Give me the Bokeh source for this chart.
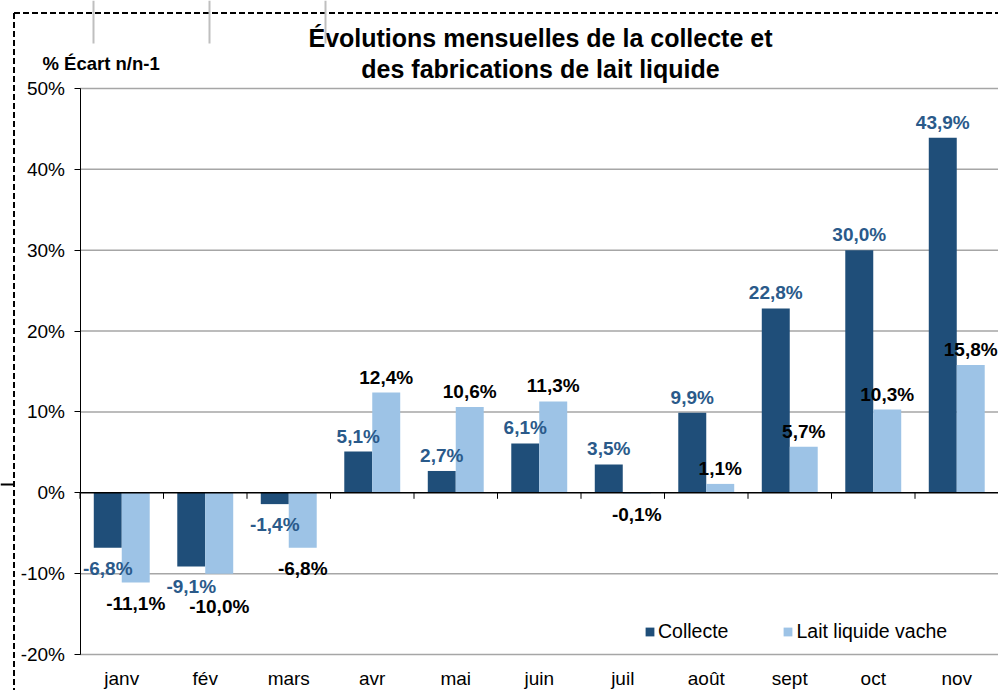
from bokeh.plotting import figure
from bokeh.models import (Range1d, FixedTicker, LinearAxis, Legend, LegendItem,
                          ColumnDataSource)
from bokeh.core.properties import value
from bokeh.embed import file_html
from bokeh.resources import INLINE

# ---- data ----
months = ["janv", "fév", "mars", "avr", "mai", "juin", "juil", "août", "sept", "oct", "nov"]
collecte = [-6.8, -9.1, -1.4, 5.1, 2.7, 6.1, 3.5, 9.9, 22.8, 30.0, 43.9]
lait = [-11.1, -10.0, -6.8, 12.4, 10.6, 11.3, -0.1, 1.1, 5.7, 10.3, 15.8]
y_ticks = [-20, -10, 0, 10, 20, 30, 40, 50]
title_lines = ["Évolutions mensuelles de la collecte et", "des fabrications de lait liquide"]
y_title = "% Écart n/n-1"
series_names = ["Collecte", "Lait liquide vache"]

DARK = "#1F4E79"
LIGHT = "#9DC3E6"
LBL_BLUE = "#2A5A8A"
GRID = "#A6A6A6"
FONT = "Liberation Sans"

# ---- picture geometry (pixels) -> data scale ----
W, H = 998, 690
PX0 = 0
AXIS_X = 79.5             # picture x of the y axis (category boundary 0)
CAT_PX = 83.5             # px per category
Y50, Y0 = 88.0, 492.3     # picture y of 50% and 0%
PPU = (Y0 - Y50) / 50.0   # px per percent

def dx(px):
    return (px - AXIS_X) / CAT_PX

def dy(py):
    return (Y0 - py) / PPU

n = len(months)
x_range = Range1d(dx(PX0), dx(PX0 + W))
y_range = Range1d(dy(PX0 + H), dy(PX0))

centers = [i + 0.5 for i in range(n)]
bw = 0.335
x_c = [c - bw / 2 for c in centers]
x_l = [c + bw / 2 for c in centers]

def fmt(v):
    return f"{v:.1f}".replace(".", ",") + "%"

POS_OFF = 15.5 / PPU
NEG_OFF = 20.5 / PPU
MIN_SEP = 20.0 / PPU

def lab_y(v):
    return v + POS_OFF if v >= 0 else v - NEG_OFF

ly_c = [lab_y(v) for v in collecte]
ly_l = []
for a, b in zip(ly_c, lait):
    y = lab_y(b)
    # avoid overlapping the neighbouring label of the same month (negative side)
    if b < 0 and abs(y - a) < MIN_SEP:
        y = min(y, a - MIN_SEP)
    ly_l.append(y)

src_c = ColumnDataSource(dict(x=x_c, top=collecte, ly=ly_c, txt=[fmt(v) for v in collecte]))
src_l = ColumnDataSource(dict(x=x_l, top=lait, ly=ly_l, txt=[fmt(v) for v in lait]))

p = figure(width=W, height=H, output_backend="svg", toolbar_location=None,
           x_range=x_range, y_range=y_range, x_axis_location=None, y_axis_location=None,
           min_border=0, min_border_left=0, min_border_right=0,
           min_border_top=0, min_border_bottom=0)
p.outline_line_color = None
p.background_fill_color = "white"
p.border_fill_color = "white"
p.xgrid.visible = False
p.ygrid.visible = False

# gridlines (from the axis to the right edge)
gy = [t for t in y_ticks if t != 0]
p.segment(x0=[0] * len(gy), x1=[n] * len(gy), y0=gy, y1=gy, line_color=GRID, line_width=1.5)

# y axis at fixed location x=0
yaxis = LinearAxis(fixed_location=0, ticker=FixedTicker(ticks=y_ticks), bounds=(-20, 50))
yaxis.major_label_overrides = {t: f"{t}%" for t in y_ticks}
yaxis.major_label_text_font = FONT
yaxis.major_label_text_font_size = "19px"
yaxis.major_label_text_color = "#000"
yaxis.axis_line_color = "#000"
yaxis.axis_line_width = 1
yaxis.major_tick_line_color = "#000"
yaxis.major_tick_in = 0
yaxis.major_tick_out = 6
yaxis.minor_tick_line_color = None
yaxis.major_label_standoff = 9
p.add_layout(yaxis, "left")

# x axis (labels only) fixed at -20%
xaxis = LinearAxis(fixed_location=-20, ticker=FixedTicker(ticks=centers))
xaxis.major_label_overrides = {c: m for c, m in zip(centers, months)}
xaxis.major_label_text_font = FONT
xaxis.major_label_text_font_size = "19px"
xaxis.major_label_text_color = "#000"
xaxis.axis_line_color = None
xaxis.major_tick_line_color = None
xaxis.minor_tick_line_color = None
xaxis.major_label_standoff = 7
p.add_layout(xaxis, "below")

# bars
r1 = p.vbar(x="x", top="top", bottom=0, width=bw, source=src_c, fill_color=DARK, line_color=None)
r2 = p.vbar(x="x", top="top", bottom=0, width=bw, source=src_l, fill_color=LIGHT, line_color=None)

# zero line and category boundary ticks
p.segment(x0=[0], x1=[n], y0=[0], y1=[0], line_color="#000", line_width=1.5)
bounds = list(range(n + 1))
p.segment(x0=bounds, x1=bounds, y0=[0] * len(bounds), y1=[-6 / PPU] * len(bounds),
          line_color="#000", line_width=1)

# data labels
p.text(x="x", y="ly", text="txt", source=src_c, text_align="center", text_baseline="middle",
       text_font=value(FONT), text_font_size="19px", text_font_style="bold", text_color=LBL_BLUE)
p.text(x="x", y="ly", text="txt", source=src_l, text_align="center", text_baseline="middle",
       text_font=value(FONT), text_font_size="19px", text_font_style="bold", text_color="#000")

# titles
p.text(x=[dx(540), dx(540)], y=[dy(37), dy(68)], text=title_lines,
       text_align="center", text_baseline="middle", text_font=value(FONT),
       text_font_size="25px", text_font_style="bold", text_color="#000")
p.text(x=[dx(42)], y=[dy(63)], text=[y_title], text_align="left", text_baseline="middle",
       text_font=value(FONT), text_font_size="18.5px", text_font_style="bold", text_color="#000")

# dashed frame of the chart area and surrounding sheet lines
p.segment(x0=[dx(13.5)], x1=[dx(13.5)], y0=[dy(12.5)], y1=[dy(700)],
          line_color="#000", line_width=2, line_dash="6 3")
p.segment(x0=[dx(13.5)], x1=[dx(1000)], y0=[dy(12.5)], y1=[dy(12.5)],
          line_color="#000", line_width=2, line_dash="6 3")
sheet_x = [93, 209, 325]
p.segment(x0=[dx(v) for v in sheet_x], x1=[dx(v) for v in sheet_x],
          y0=[dy(0)] * 3, y1=[dy(43)] * 3, line_color="#BFBFBF", line_width=2)
p.segment(x0=[dx(0)], x1=[dx(14)], y0=[dy(484)], y1=[dy(484)], line_color="#000", line_width=2)

# legend
legend = Legend(items=[LegendItem(label=series_names[0], renderers=[r1]),
                       LegendItem(label=series_names[1], renderers=[r2])],
                orientation="horizontal", location=(644, 47),
                label_text_font=FONT, label_text_font_size="19.5px", label_text_color="#000",
                glyph_width=11, glyph_height=11, label_standoff=3, spacing=54,
                padding=0, margin=0, border_line_color=None, background_fill_alpha=0)
p.add_layout(legend, "center")

open("out.html", "w").write(file_html(p, INLINE))
